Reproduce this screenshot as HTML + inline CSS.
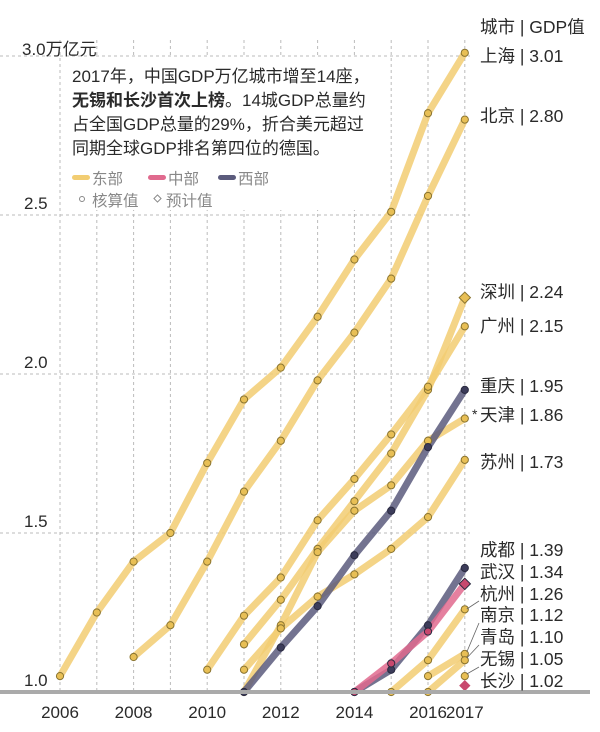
<!DOCTYPE html>
<html><head><meta charset="utf-8"><style>
body{margin:0;background:#fff;width:600px;height:727px;overflow:hidden}
svg text{font-family:"Liberation Sans","Noto Sans CJK SC",sans-serif;fill:#2a2a2a}
</style></head><body>
<svg id="s" width="600" height="727" xmlns="http://www.w3.org/2000/svg"></svg>
<script>
const s=document.getElementById('s');
const X=y=>60+(y-2006)*36.8, Y=v=>692-(v-1)*318;
let h='';
for(let y=2006;y<=2017;y++)h+=`<line x1="${X(y)}" y1="40" x2="${X(y)}" y2="692" stroke="#bbb" stroke-dasharray="3,3" stroke-width="1"/>`;
[1.5,2,2.5,3].forEach(v=>h+=`<line x1="0" y1="${Y(v)}" x2="470" y2="${Y(v)}" stroke="#bbb" stroke-dasharray="3,3" stroke-width="1"/>`);
h+=`<rect x="63" y="58" width="322" height="152" fill="#fff"/>`;
const Yc='#f2cd72',Dk='#5b5b7c',Pk='#e06a8e';
const S=[
 [2006,[1.05,1.25,1.41,1.5,1.72,1.92,2.02,2.18,2.36,2.51,2.82,3.01],Yc,0],
 [2008,[1.11,1.21,1.41,1.63,1.79,1.98,2.13,2.30,2.56,2.80],Yc,0],
 [2011,[1.15,1.29,1.45,1.60,1.75,1.95,2.24],Yc,1],
 [2010,[1.07,1.24,1.36,1.54,1.67,1.81,1.96,2.15],Yc,0],
 [2011,[1.0,1.21,1.44,1.57,1.65,1.79,1.86],Yc,0],
 [2011,[1.07,1.20,1.30,1.37,1.45,1.55,1.73],Yc,0],
 [2015,[1.0,1.10,1.26],Yc,0],
 [2016,[1.05,1.12],Yc,0],
 [2016,[1.0,1.10],Yc,0],
 [2011,[1.0,1.14,1.27,1.43,1.57,1.77,1.95],Dk,0],
 [2014,[1.0,1.07,1.21,1.39],Dk,0],
 [2014,[1.0,1.09,1.19,1.34],Pk,1],
];
let dots='';
S.forEach(([y0,vals,c,dia])=>{
 const pts=vals.map((v,i)=>[X(y0+i),Y(v)]);
 h+=`<polyline points="${pts.map(p=>p.join(',')).join(' ')}" fill="none" stroke="${c}" stroke-width="7" stroke-linejoin="round" stroke-linecap="round" opacity="0.85"/>`;
 const fc=c==Yc?'#e8bf55':c==Dk?'#3c3c5a':'#c8486e', sc=c==Yc?'#8a7430':'#2a2a40';
 pts.forEach((p,i)=>{
  if(dia&&i==pts.length-1) dots+=`<rect x="${p[0]-4}" y="${p[1]-4}" width="8" height="8" transform="rotate(45 ${p[0]} ${p[1]})" fill="${fc}" stroke="${sc}" stroke-width="1"/>`;
  else dots+=`<circle cx="${p[0]}" cy="${p[1]}" r="3.6" fill="${fc}" stroke="${sc}" stroke-width="1"/>`;
 });
});
h+=dots;
h+=`<circle cx="${X(2017)}" cy="${Y(1.05)}" r="3.6" fill="#e8bf55" stroke="#8a7430"/>`;
h+=`<rect x="${X(2017)-4}" y="${Y(1.02)-4}" width="8" height="8" transform="rotate(45 ${X(2017)} ${Y(1.02)})" fill="#c8486e"/>`;
h+=`<line x1="0" y1="692" x2="590" y2="692" stroke="#aaa" stroke-width="4"/>`;
h+=`<text x="22" y="55" font-size="17">3.0万亿元</text>`;
[[2.5,'2.5'],[2,'2.0'],[1.5,'1.5'],[1,'1.0']].forEach(([v,t])=>h+=`<text x="24" y="${Y(v)-6}" font-size="17">${t}</text>`);
[2006,2008,2010,2012,2014,2016,2017].forEach(y=>h+=`<text x="${X(y)}" y="718" font-size="17" text-anchor="middle">${y}</text>`);
h+=`<g font-size="17"><text x="72" y="82">2017年，中国GDP万亿城市增至14座，</text>
<text x="72" y="106"><tspan font-weight="bold">无锡和长沙首次上榜</tspan>。14城GDP总量约</text>
<text x="72" y="130">占全国GDP总量的29%，折合美元超过</text>
<text x="72" y="154">同期全球GDP排名第四位的德国。</text></g>`;
h+=`<rect x="72" y="175" width="18" height="5" rx="2.5" fill="${Yc}"/><text x="92" y="184" font-size="15.5" style="fill:#888">东部</text>
<rect x="148" y="175" width="18" height="5" rx="2.5" fill="${Pk}"/><text x="168" y="184" font-size="15.5" style="fill:#888">中部</text>
<rect x="218" y="175" width="18" height="5" rx="2.5" fill="${Dk}"/><text x="238" y="184" font-size="15.5" style="fill:#888">西部</text>
<circle cx="82" cy="199" r="2.5" fill="none" stroke="#888"/><text x="92" y="206" font-size="15.5" style="fill:#888">核算值</text>
<rect x="155" y="196" width="5" height="5" transform="rotate(45 157.5 198.5)" fill="none" stroke="#888"/><text x="166" y="206" font-size="15.5" style="fill:#888">预计值</text>`;
const L=[['城市 | GDP值',33],['上海 | 3.01',62],['北京 | 2.80',122],['深圳 | 2.24',298],['广州 | 2.15',332],['重庆 | 1.95',392],['天津 | 1.86',421],['苏州 | 1.73',468],['成都 | 1.39',556],['武汉 | 1.34',578],['杭州 | 1.26',600],['南京 | 1.12',621],['青岛 | 1.10',643],['无锡 | 1.05',665],['长沙 | 1.02',687]];
L.forEach(([t,y])=>h+=`<text x="480" y="${y}" font-size="17.5">${t}</text>`);
h+=`<text x="472" y="419" font-size="14">*</text>`;
[[597,611],[619,654],[641,660],[663,676]].forEach(([a,b])=>h+=`<line x1="479" y1="${a+4}" x2="${X(2017)+2}" y2="${b-2}" stroke="#666" stroke-width="0.8"/>`);
s.innerHTML=h;
</script>
</body></html>
